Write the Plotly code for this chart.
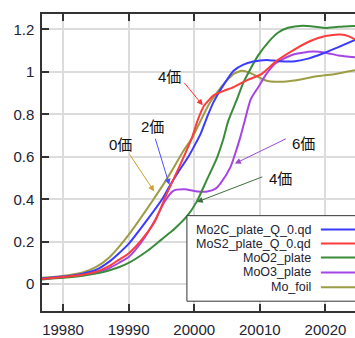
import plotly.graph_objects as go

# ---- data ----
mo2c_x = [19976.8, 19980, 19983, 19985, 19987, 19988.5, 19990, 19993, 19995.1, 19996.3, 19997.5, 19999.1,
          20000, 20001, 20002, 20002.9, 20004.3, 20006, 20007.5, 20009, 20011, 20013, 20015.4, 20017.5,
          20019.5, 20021.5, 20024.5]
mo2c_y = [0.027, 0.036, 0.05, 0.067, 0.105, 0.145, 0.19, 0.31, 0.40, 0.465, 0.525, 0.60,
          0.65, 0.71, 0.79, 0.855, 0.93, 1.005, 1.034, 1.048, 1.056, 1.05, 1.05, 1.063,
          1.085, 1.11, 1.15]

mos2_x = [19976.8, 19980, 19983, 19985, 19987, 19988.5, 19990, 19992, 19994, 19995.8, 19997.8, 19999.6,
          20000.5, 20001.5, 20003, 20004.5, 20006, 20008, 20010.3, 20012.5, 20015, 20017.7, 20020,
          20022.3, 20023.5, 20024.5]
mos2_y = [0.025, 0.034, 0.045, 0.058, 0.085, 0.115, 0.145, 0.21, 0.295, 0.425, 0.558, 0.685,
          0.77, 0.84, 0.89, 0.91, 0.928, 0.96, 0.99, 1.05, 1.10, 1.145, 1.168,
          1.175, 1.168, 1.152]

moo2_x = [19976.8, 19980, 19983, 19985, 19987, 19988.5, 19990, 19993, 19995, 19996.6, 19997.8, 19998.9,
          20000.4, 20001.9, 20003.4, 20004.4, 20005.2, 20006.5, 20007.5, 20008.5, 20009.7, 20011.3,
          20012.8, 20014.3, 20016.5, 20018.5, 20020, 20022, 20024.5]
moo2_y = [0.022, 0.030, 0.04, 0.05, 0.065, 0.08, 0.10, 0.16, 0.21, 0.25, 0.285, 0.32,
          0.39, 0.49, 0.59, 0.68, 0.77, 0.87, 0.95, 1.01, 1.075, 1.14,
          1.185, 1.207, 1.217, 1.212, 1.206, 1.212, 1.216]

moo3_x = [19976.8, 19980, 19983, 19985, 19987, 19988.5, 19990, 19992, 19994, 19995.5, 19996.8, 19998.5,
          20000.5, 20002, 20003.2, 20004, 20005.5, 20006.3, 20007, 20007.7, 20008.6, 20009.8, 20011,
          20012.4, 20015, 20018, 20020, 20022, 20024.5]
moo3_y = [0.025, 0.033, 0.043, 0.055, 0.075, 0.1, 0.128, 0.2, 0.3, 0.39, 0.44, 0.447,
          0.437, 0.437, 0.449, 0.475, 0.55, 0.62, 0.69, 0.77, 0.87, 0.93, 0.99,
          1.04, 1.08, 1.095, 1.09, 1.077, 1.068]

mofoil_x = [19976.8, 19980, 19983, 19985, 19987, 19988.5, 19990, 19991.7, 19993.8, 19995.3, 19996.5,
            19998.3, 19999.7, 20000.9, 20002.4, 20003.9, 20004.7, 20006, 20007.3, 20008.5, 20009.8,
            20011, 20012.5, 20014, 20016.4, 20018.9, 20021.5, 20024.5]
mofoil_y = [0.030, 0.039, 0.055, 0.080, 0.125, 0.175, 0.232, 0.305, 0.40, 0.47, 0.53,
            0.625, 0.69, 0.765, 0.855, 0.92, 0.95, 0.99, 1.005, 0.995, 0.975,
            0.958, 0.953, 0.954, 0.965, 0.98, 0.99, 1.007]

series_names = ["Mo2C_plate_Q_0.qd", "MoS2_plate_Q_0.qd", "MoO2_plate", "MoO3_plate", "Mo_foil"]
series_colors = ["#3b3bff", "#ff3b3b", "#3a8c3a", "#a545e6", "#9d9d45"]
series_x = [mo2c_x, mos2_x, moo2_x, moo3_x, mofoil_x]
series_y = [mo2c_y, mos2_y, moo2_y, moo3_y, mofoil_y]

x_ticks = [19980, 19990, 20000, 20010, 20020]
y_ticks = [0, 0.2, 0.4, 0.6, 0.8, 1, 1.2]

FONT = "Liberation Sans, Arial, Noto Sans CJK JP, sans-serif"
TXT = "#222233"

fig = go.Figure()
order = [4, 3, 2, 0, 1]
for i in order:
    fig.add_trace(go.Scatter(x=series_x[i], y=series_y[i], mode="lines", name=series_names[i],
                             line=dict(color=series_colors[i], width=2, shape="spline", smoothing=0.6),
                             showlegend=False, hoverinfo="skip"))

# ---- annotations with arrows (label text + arrow) ----
labels = [
    # text, text_x, text_y, tail_x, tail_y, head_x, head_y, color
    ("4価", 19996.3, 0.978, 19998.3, 0.955, 20001.3, 0.842, "#ff3030"),
    ("2価", 19993.6, 0.744, 19994.0, 0.692, 19996.2, 0.468, "#5050ff"),
    ("0価", 19988.7, 0.660, 19990.0, 0.618, 19993.9, 0.437, "#d0a030"),
    ("6価", 20016.6, 0.664, 20014.2, 0.688, 20006.2, 0.568, "#9a4ad0"),
    ("4価", 20013.2, 0.500, 20010.6, 0.508, 20000.4, 0.387, "#3f6f3f"),
]
for t, tx, ty, ax_, ay_, hx, hy, c in labels:
    fig.add_annotation(x=tx, y=ty, text=t, showarrow=False, xref="x", yref="y",
                       font=dict(family=FONT, size=15, color="#111111"))
    fig.add_annotation(x=hx, y=hy, ax=ax_, ay=ay_, axref="x", ayref="y", xref="x", yref="y",
                       text="", showarrow=True, arrowhead=2, arrowsize=1.2, arrowwidth=1,
                       arrowcolor=c, standoff=0, startstandoff=0)

# ---- legend drawn as box + text + line samples (text right aligned, sample on right) ----
fig.add_shape(type="rect", xref="paper", yref="paper", x0=0.463, x1=1.02, y0=0.033, y1=0.321,
              fillcolor="white", line=dict(color="#333333", width=1), layer="above")
row_y = [0.274, 0.227, 0.180, 0.130, 0.080]
for name, col, ry in zip(series_names, series_colors, row_y):
    fig.add_annotation(x=0.866, y=ry, xref="paper", yref="paper", text=name, showarrow=False,
                       xanchor="right", yanchor="middle",
                       font=dict(family=FONT, size=12.5, color=TXT))
    fig.add_shape(type="line", xref="paper", yref="paper", x0=0.891, x1=1.0, y0=ry, y1=ry,
                  line=dict(color=col, width=2), layer="above")

fig.update_layout(
    width=355, height=338,
    margin=dict(l=42, r=0, t=14, b=25),
    paper_bgcolor="white", plot_bgcolor="white",
    font=dict(family=FONT, size=15, color=TXT),
    showlegend=False,
)
fig.update_xaxes(range=[19976.8, 20024.5], tickvals=x_ticks, tickformat="d",
                 showgrid=True, gridcolor="#dcdcdc", gridwidth=1.5, zeroline=False,
                 showline=True, linecolor="#333333", linewidth=1.5, mirror="allticks",
                 ticks="inside", ticklen=7, tickwidth=1.5, tickcolor="#333333",
                 ticklabelstandoff=4,
                 tickfont=dict(family=FONT, size=15, color=TXT))
fig.update_yaxes(range=[-0.126, 1.272], tickvals=y_ticks,
                 showgrid=True, gridcolor="#dcdcdc", gridwidth=1.5, zeroline=False,
                 showline=True, linecolor="#333333", linewidth=1.5, mirror=False,
                 ticks="inside", ticklen=7, tickwidth=1.5, tickcolor="#333333",
                 ticklabelstandoff=3,
                 tickfont=dict(family=FONT, size=15, color=TXT))

fig.write_html("out.html", config={"displayModeBar": False},
               post_script="document.body.style.margin='0';document.body.style.padding='0';"
                           "document.body.style.overflow='hidden';")
